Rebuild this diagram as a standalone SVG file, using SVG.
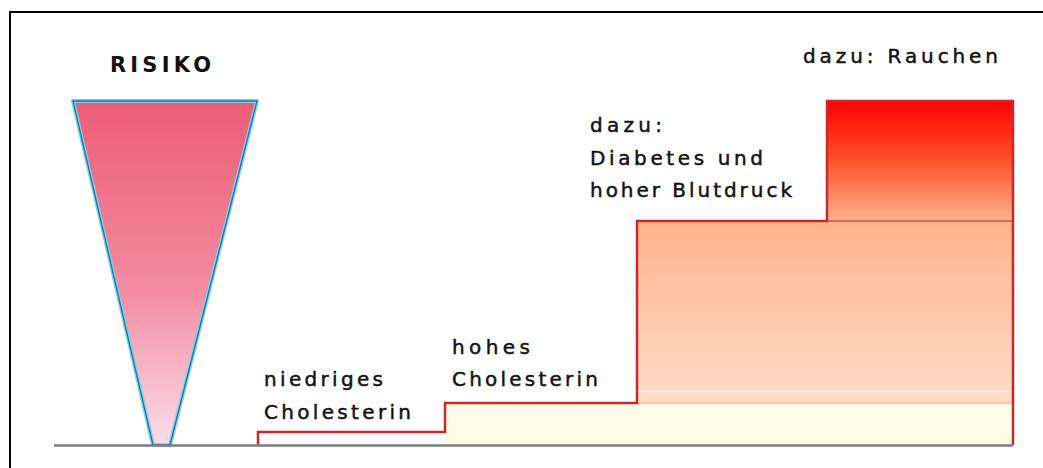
<svg xmlns="http://www.w3.org/2000/svg" width="1043" height="468" viewBox="0 0 1043 468">
<defs>
<linearGradient id="gTri" x1="0" y1="0" x2="0" y2="1">
<stop offset="0" stop-color="#ee5c76"/>
<stop offset="0.55" stop-color="#f28ca2"/>
<stop offset="1" stop-color="#fbdde8"/>
</linearGradient>
<linearGradient id="gS3" x1="0" y1="0" x2="0" y2="1">
<stop offset="0" stop-color="#ffb38a"/>
<stop offset="1" stop-color="#ffdcc8"/>
</linearGradient>
<linearGradient id="gS4" x1="0" y1="0" x2="0" y2="1">
<stop offset="0" stop-color="#ff0000"/>
<stop offset="0.45" stop-color="#ff4a22"/>
<stop offset="1" stop-color="#ffb38e"/>
</linearGradient>
</defs>
<style>
.lbl{font-family:"DejaVu Sans","Liberation Sans",sans-serif;font-size:20px;fill:#111;stroke:#111;stroke-width:0.45}
.ttl{font-family:"DejaVu Sans","Liberation Sans",sans-serif;font-size:21px;font-weight:bold;fill:#111}
.step{stroke:#c8282e;stroke-width:2.5;fill:none}
</style>
<rect width="1043" height="468" fill="#ffffff"/>
<g id="frame">
<path d="M10,468 V12 H1043" fill="none" stroke="#000" stroke-width="2"/>
</g>
<g id="risiko">
<text class="ttl" x="110" y="72" textLength="101" lengthAdjust="spacing">RISIKO</text>
<polygon points="73,101 257,101 170,445 153,445" fill="url(#gTri)" stroke="#74d4ec" stroke-width="4" stroke-linejoin="round"/>
<polygon points="73,101 257,101 170,445 153,445" fill="none" stroke="#2f6f98" stroke-width="1.3"/>
</g>
<g id="steps">
<rect x="445" y="403" width="568" height="42" fill="#fffbe9"/>
<rect x="637" y="221" width="376" height="182" fill="url(#gS3)"/>
<rect x="827" y="101" width="186" height="120" fill="url(#gS4)"/>
<line x1="637" y1="403" x2="1013" y2="403" stroke="#ffc4b4" stroke-width="2"/>
<line x1="637" y1="391" x2="1013" y2="391" stroke="#ffeadc" stroke-width="2"/>
<line x1="827" y1="221" x2="1013" y2="221" stroke="#e04638" stroke-width="1.5"/>
<path class="step" d="M258,445 V432 H445 V403 H637 V221 H827 V101 H1013 V445"/>
</g>
<g id="baseline">
<line x1="54" y1="445.5" x2="1013" y2="445.5" stroke="#7d7d7d" stroke-width="2.5"/>
</g>
<g id="labels">
<text class="lbl" x="264" y="386" textLength="119" lengthAdjust="spacing">niedriges</text>
<text class="lbl" x="264" y="419" textLength="147" lengthAdjust="spacing">Cholesterin</text>
<text class="lbl" x="452" y="354" textLength="78" lengthAdjust="spacing">hohes</text>
<text class="lbl" x="452" y="386" textLength="146" lengthAdjust="spacing">Cholesterin</text>
<text class="lbl" x="590" y="132" textLength="72" lengthAdjust="spacing">dazu:</text>
<text class="lbl" x="590" y="165" textLength="173" lengthAdjust="spacing">Diabetes und</text>
<text class="lbl" x="590" y="197" textLength="202" lengthAdjust="spacing">hoher Blutdruck</text>
<text class="lbl" x="803" y="63" textLength="195" lengthAdjust="spacing">dazu: Rauchen</text>
</g>
</svg>
